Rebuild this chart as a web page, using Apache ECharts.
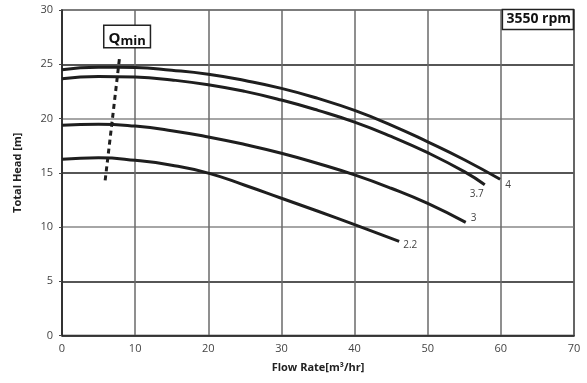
<!DOCTYPE html>
<html>
<head>
<meta charset="utf-8">
<script src="https://cdn.jsdelivr.net/npm/echarts@6/dist/echarts.min.js"></script>
<style>
html,body{margin:0;padding:0;background:#fff;}
#c{width:587px;height:383px;}
</style>
</head>
<body>
<div id="c"></div>
<script>
// Flow rate [m3/hr] and total head [m] for each motor power curve
const flow4   = [0, 5, 10, 15, 20, 25, 30, 35, 40, 45, 50, 55, 59.9];
const head4   = [24.5, 24.72, 24.7, 24.45, 24.08, 23.5, 22.78, 21.85, 20.75, 19.4, 17.85, 16.2, 14.4];
const flow37  = [0, 5, 10, 15, 20, 25, 30, 35, 40, 45, 50, 55, 57.8];
const head37  = [23.67, 23.88, 23.82, 23.55, 23.12, 22.5, 21.7, 20.75, 19.67, 18.35, 16.85, 15.1, 13.9];
const flow3   = [0, 5, 10, 15, 20, 25, 30, 35, 40, 45, 50, 55.2];
const head3   = [19.37, 19.48, 19.3, 18.88, 18.3, 17.6, 16.8, 15.85, 14.8, 13.57, 12.17, 10.42];
const flow22  = [0, 5, 10, 15, 20, 25, 30, 35, 40, 46.1];
const head22  = [16.24, 16.38, 16.15, 15.7, 14.97, 13.85, 12.65, 11.45, 10.22, 8.68];
const qminFlow = [5.9, 6.9, 7.9];
const qminHead = [14.3, 20, 25.8];
const curveNames = ['4', '3.7', '3', '2.2'];
const xTicks = [0, 10, 20, 30, 40, 50, 60, 70];
const yTicks = [0, 5, 10, 15, 20, 25, 30];
const qminPos = [8.9, 27.55];

const curves = [[flow4, head4], [flow37, head37], [flow3, head3], [flow22, head22]];
const labelOffsets = [[0, 6], [-20, 9], [0, -4], [-1, 4]];

const chart = echarts.init(document.getElementById('c'), null, {renderer: 'canvas'});
const font = '"Open Sans", "Noto Sans", sans-serif';

const series = curves.map(function (c, k) {
  return {
    type: 'line', data: c[0].map(function (x, i) { return [x, c[1][i]]; }),
    smooth: 0.5, showSymbol: false, symbol: 'none',
    lineStyle: {color: '#1e1e1e', width: 3}, silent: true,
    endLabel: {
      show: true, formatter: curveNames[k], offset: labelOffsets[k], distance: 5,
      fontSize: 10, color: '#444', fontFamily: font
    }
  };
});
series.push({
  type: 'line', data: qminFlow.map(function (x, i) { return [x, qminHead[i]]; }),
  showSymbol: false, symbol: 'none', silent: true,
  lineStyle: {color: '#1e1e1e', width: 3, type: [5, 4]}
});

chart.setOption({
  animation: false,
  backgroundColor: '#fff',
  grid: {left: 62, right: 13, top: 10, bottom: 47.5, show: true, borderColor: '#222', borderWidth: 1.5, containLabel: false},
  title: {
    text: '3550 rpm', right: 13, top: 9.5,
    textStyle: {fontSize: 14, fontWeight: 'bold', color: '#111', fontFamily: font},
    backgroundColor: '#fff', borderColor: '#222', borderWidth: 1.5,
    padding: [3, 3, 3, 4]
  },
  xAxis: {
    type: 'value', min: xTicks[0], max: xTicks[xTicks.length - 1], interval: 10,
    name: 'Flow Rate[m\u00B3/hr]', nameLocation: 'middle', nameGap: 27,
    nameTextStyle: {fontSize: 11, fontWeight: 'bold', color: '#222', fontFamily: font},
    axisLine: {show: true, lineStyle: {color: '#222', width: 1.5}},
    axisTick: {show: false},
    axisLabel: {fontSize: 11, color: '#444', margin: 8, fontFamily: font},
    splitLine: {show: true, lineStyle: {color: '#6a6a6a', width: 1.5}}
  },
  yAxis: {
    type: 'value', min: yTicks[0], max: yTicks[yTicks.length - 1], interval: 5,
    name: 'Total Head [m]', nameLocation: 'middle', nameGap: 39, nameRotate: 90,
    nameTextStyle: {fontSize: 11, fontWeight: 'bold', color: '#222', fontFamily: font},
    axisLine: {show: true, lineStyle: {color: '#222', width: 1.5}},
    axisTick: {show: true, length: 3, lineStyle: {color: '#444'}},
    axisLabel: {fontSize: 11, color: '#444', margin: 9, fontFamily: font},
    splitLine: {show: true, lineStyle: {color: ['#888', '#1e1e1e'], width: 1.5}}
  },
  series: series
});

const p = chart.convertToPixel({gridIndex: 0}, qminPos);
chart.setOption({
  graphic: [{
    type: 'text', x: p[0], y: p[1], z: 100,
    style: {
      text: '{q|Q}{m|min}',
      align: 'center', verticalAlign: 'middle',
      backgroundColor: '#fff', borderColor: '#222', borderWidth: 1.5,
      padding: [2, 4, 1, 4],
      rich: {
        q: {fontSize: 15, fontWeight: 'bold', fill: '#111', fontFamily: font, verticalAlign: 'bottom', lineHeight: 18},
        m: {fontSize: 13, fontWeight: 'bold', fill: '#111', fontFamily: font, verticalAlign: 'bottom', padding: [0, 0, -2, 0], lineHeight: 18}
      }
    }
  }]
});
</script>
</body>
</html>
